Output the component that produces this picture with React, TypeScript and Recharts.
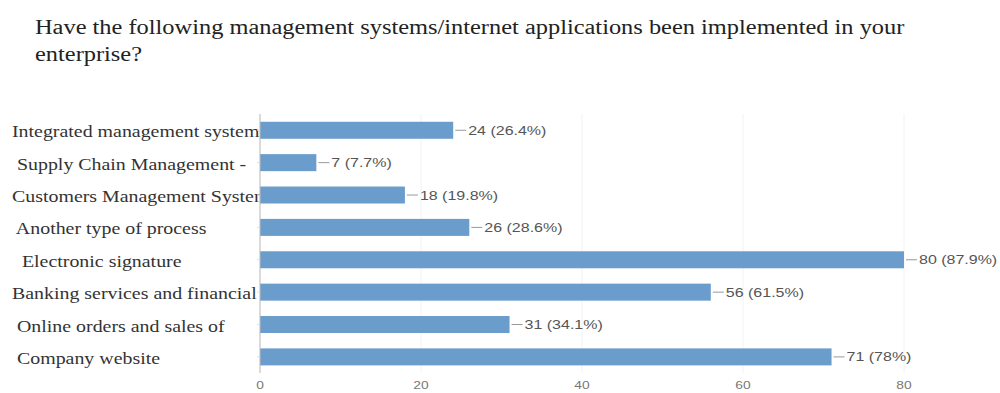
import React from "react";
import { Bar, BarChart, CartesianGrid, LabelList, XAxis, YAxis } from "recharts";

const categories = [
  "Integrated management system",
  " Supply Chain Management -",
  "Customers Management System",
  " Another type of process",
  "  Electronic signature",
  "Banking services and financial",
  " Online orders and sales of",
  " Company website",
];
const counts = [24, 7, 18, 26, 80, 56, 31, 71];
const percents = ["26.4%", "7.7%", "19.8%", "28.6%", "87.9%", "61.5%", "34.1%", "78%"];
const xTicks = [0, 20, 40, 60, 80];

const data = categories.map((name, i) => ({
  name,
  value: counts[i],
  label: `${counts[i]} (${percents[i]})`,
}));

// category text is drawn inside the bar shape so the bar covers long names,
// like in the source. the source picture is stretched sideways -> scaleX
const BarWithName = (props: any) => {
  const { x, y, width, height, fill, payload } = props;
  return (
    <g>
      <text
        transform={`translate(12,${y + height / 2 + 7}) scale(1.17,1)`}
        textAnchor="start"
        fontFamily="'Liberation Serif', serif"
        fontSize={17}
        fill="#333"
        style={{ whiteSpace: "pre" }}
      >
        {payload.name}
      </text>
      <rect x={x} y={y} width={width} height={height} fill={fill} />
    </g>
  );
};

const NumberTick = ({ x, y, payload }: any) => (
  <text
    transform={`translate(${x},${y + 8}) scale(1.25,1)`}
    textAnchor="middle"
    fontFamily="'Liberation Sans', Arial, sans-serif"
    fontSize={11}
    fill="#777"
  >
    {payload.value}
  </text>
);

const ValueLabel = (props: any) => {
  const { x, y, width, height, value } = props;
  const end = x + width;
  const cy = y + height / 2;
  return (
    <g>
      <line x1={end + 2} y1={cy} x2={end + 13} y2={cy} stroke="#999" strokeWidth={1} />
      <text
        transform={`translate(${end + 15},${cy + 4.5}) scale(1.28,1)`}
        fontFamily="'Liberation Sans', Arial, sans-serif"
        fontSize={12.5}
        fill="#555"
      >
        {value}
      </text>
    </g>
  );
};

export default function App() {
  return (
    <div style={{ position: "absolute", left: 0, top: 0, width: 1000, height: 393, background: "#fff" }}>
      <BarChart
        width={1000}
        height={393}
        data={data}
        layout="vertical"
        margin={{ top: 114, right: 96, bottom: 0, left: 0 }}
        barCategoryGap="24%"
      >
        <CartesianGrid horizontal={false} stroke="#f2f2f2" />
        <XAxis
          type="number"
          domain={[0, 80]}
          ticks={xTicks}
          axisLine={false}
          tickLine={false}
          height={20}
          tick={<NumberTick />}
        />
        <YAxis
          type="category"
          dataKey="name"
          width={260}
          tick={() => <g />}
          tickSize={3}
          tickLine={{ stroke: "#ddd" }}
          axisLine={{ stroke: "#bbb" }}
          interval={0}
        />
        <Bar dataKey="value" fill="#6a9dcb" isAnimationActive={false} shape={<BarWithName />}>
          <LabelList dataKey="label" content={<ValueLabel />} />
        </Bar>
      </BarChart>
      <div
        style={{
          position: "absolute",
          left: 35,
          top: 14,
          fontFamily: "'Liberation Serif', serif",
          fontSize: 20,
          lineHeight: "27px",
          color: "#222",
          whiteSpace: "nowrap",
          transform: "scaleX(1.22)",
          transformOrigin: "left top",
        }}
      >
        Have the following management systems/internet applications been implemented in your
        <br />
        enterprise?
      </div>
    </div>
  );
}
